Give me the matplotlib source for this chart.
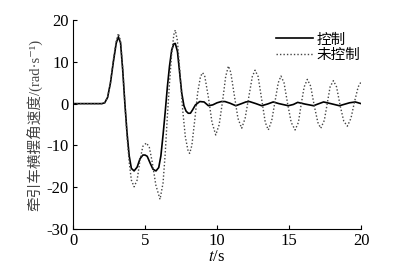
import numpy as np
import matplotlib.pyplot as plt

plt.rcParams['font.family'] = ['Liberation Serif', 'Noto Sans CJK SC']
plt.rcParams['mathtext.fontset'] = 'stix'

# controlled response
t_ctrl = [0, 2.0, 2.2, 2.4, 2.6, 2.8, 3.0, 3.15, 3.3, 3.45, 3.6, 3.75, 3.9, 4.05, 4.24,
          4.45, 4.65, 4.85, 5.0, 5.15, 5.35, 5.55, 5.76, 5.95, 6.1, 6.25, 6.4, 6.55, 6.7,
          6.85, 7.0, 7.1, 7.25, 7.4, 7.55, 7.7, 7.85, 8.0, 8.15, 8.3, 8.5, 8.8, 9.1, 9.4,
          9.7, 10.0, 10.3, 10.55, 10.9, 11.3, 11.7, 12.0, 12.25, 12.7, 13.1, 13.5, 13.9,
          14.3, 14.95, 15.3, 15.6, 16.1, 16.7, 17.0, 17.4, 17.9, 18.5, 18.9, 19.2, 19.6, 20.0]
y_ctrl = [0, 0, 0.2, 1.5, 5, 10, 14.5, 16.0, 14.5, 8, 0, -7, -12.5, -15.5, -16.1,
          -15.2, -13.2, -12.3, -12.3, -12.6, -14.2, -15.7, -16.1, -15.3, -12.5, -7.5, -2, 4, 9,
          12.8, 14.3, 14.4, 12.5, 7.5, 2.5, -0.5, -1.8, -2.3, -2.3, -1.5, -0.3, 0.5, 0.4, -0.5,
          -0.3, 0.2, 0.5, 0.5, 0.1, -0.5, 0.0, 0.4, 0.5, 0.0, -0.5, -0.1, 0.4, 0.0, -0.5,
          -0.2, 0.3, -0.1, -0.5, -0.1, 0.4, 0.0, -0.5, -0.1, 0.2, 0.4, 0.0]

# uncontrolled response
t_unc = [0, 2.0, 2.2, 2.4, 2.6, 2.8, 3.0, 3.15, 3.3, 3.45, 3.6, 3.75, 3.9, 4.05, 4.24,
         4.45, 4.65, 4.85, 5.1, 5.3, 5.5, 5.75, 6.04, 6.25, 6.4, 6.55, 6.7, 6.85, 7.0, 7.1,
         7.25, 7.4, 7.6, 7.8, 8.0, 8.1, 8.25, 8.45, 8.65, 8.85, 9.0, 9.15, 9.4, 9.65, 9.91,
         10.15, 10.4, 10.6, 10.79, 10.95, 11.2, 11.45, 11.71, 11.95, 12.2, 12.45, 12.64,
         12.85, 13.1, 13.35, 13.56, 13.8, 14.05, 14.25, 14.44, 14.65, 14.9, 15.15, 15.42,
         15.65, 15.85, 16.05, 16.27, 16.5, 16.75, 17.0, 17.2, 17.45, 17.65, 17.85, 18.08,
         18.3, 18.55, 18.8, 19.05, 19.3, 19.55, 19.8, 20.0]
y_unc = [0, 0, 0.2, 1.5, 5, 10.5, 15, 16.8, 15, 8.5, 0, -8, -14, -18.3, -19.9,
         -18.3, -13.5, -10.2, -9.4, -10.5, -14, -19.5, -22.9, -19, -12, -3, 5, 12, 16.5, 17.6,
         15, 8.5, -1, -8, -11.5, -11.9, -10, -4, 2.5, 6.5, 7.4, 6.5, 1.5, -4.5, -7.5,
         -5, 1, 6.5, 9.0, 7.5, 2, -3.5, -5.9, -3.5, 1.5, 6.5, 8.0,
         6.5, 1.0, -4.5, -6.3, -4, 1, 5, 6.6, 5, 0, -4.5, -6.3,
         -4.5, 0, 4, 5.8, 4.2, -0.5, -4.5, -5.9, -4, 0, 4, 5.5,
         4, -0.5, -4.2, -5.4, -3.5, 0.5, 4, 5.2]

fig = plt.figure(figsize=(4.15, 2.71), dpi=100)
ax = fig.add_axes([0.176, 0.155, 0.694, 0.771])

ax.plot(t_ctrl, y_ctrl, color='black', lw=1.2, label='控制')
ax.plot(t_unc, y_unc, color='#444444', lw=1.0, linestyle=(0, (1, 1.5)), label='未控制')

ax.set_xlim(0, 20)
ax.set_ylim(-30, 20)
ax.set_xticks([0, 5, 10, 15, 20])
ax.set_yticks([-30, -20, -10, 0, 10, 20])
ax.set_yticklabels(['-30', '-20', '-10', '0', '10', '20'])
ax.spines['top'].set_visible(False)
ax.spines['right'].set_visible(False)
ax.tick_params(direction='in', length=3, labelsize=12, width=0.8, pad=3)

ax.set_xlabel('$t$/s', fontsize=12, labelpad=0)
ax.set_ylabel('牵引车横摆角速度/(rad·s⁻¹)', fontsize=10.5,
              family=['Liberation Serif', 'DejaVu Serif', 'Noto Sans CJK SC'],
              color='#444444', labelpad=3)

leg = ax.legend(loc='upper left', bbox_to_anchor=(0.68, 0.975), frameon=False,
                borderpad=0, handlelength=2.5, handletextpad=0.25, labelspacing=0.1,
                prop={'family': 'Noto Sans CJK SC', 'size': 10.5})

fig.savefig('out.png', dpi=100)
